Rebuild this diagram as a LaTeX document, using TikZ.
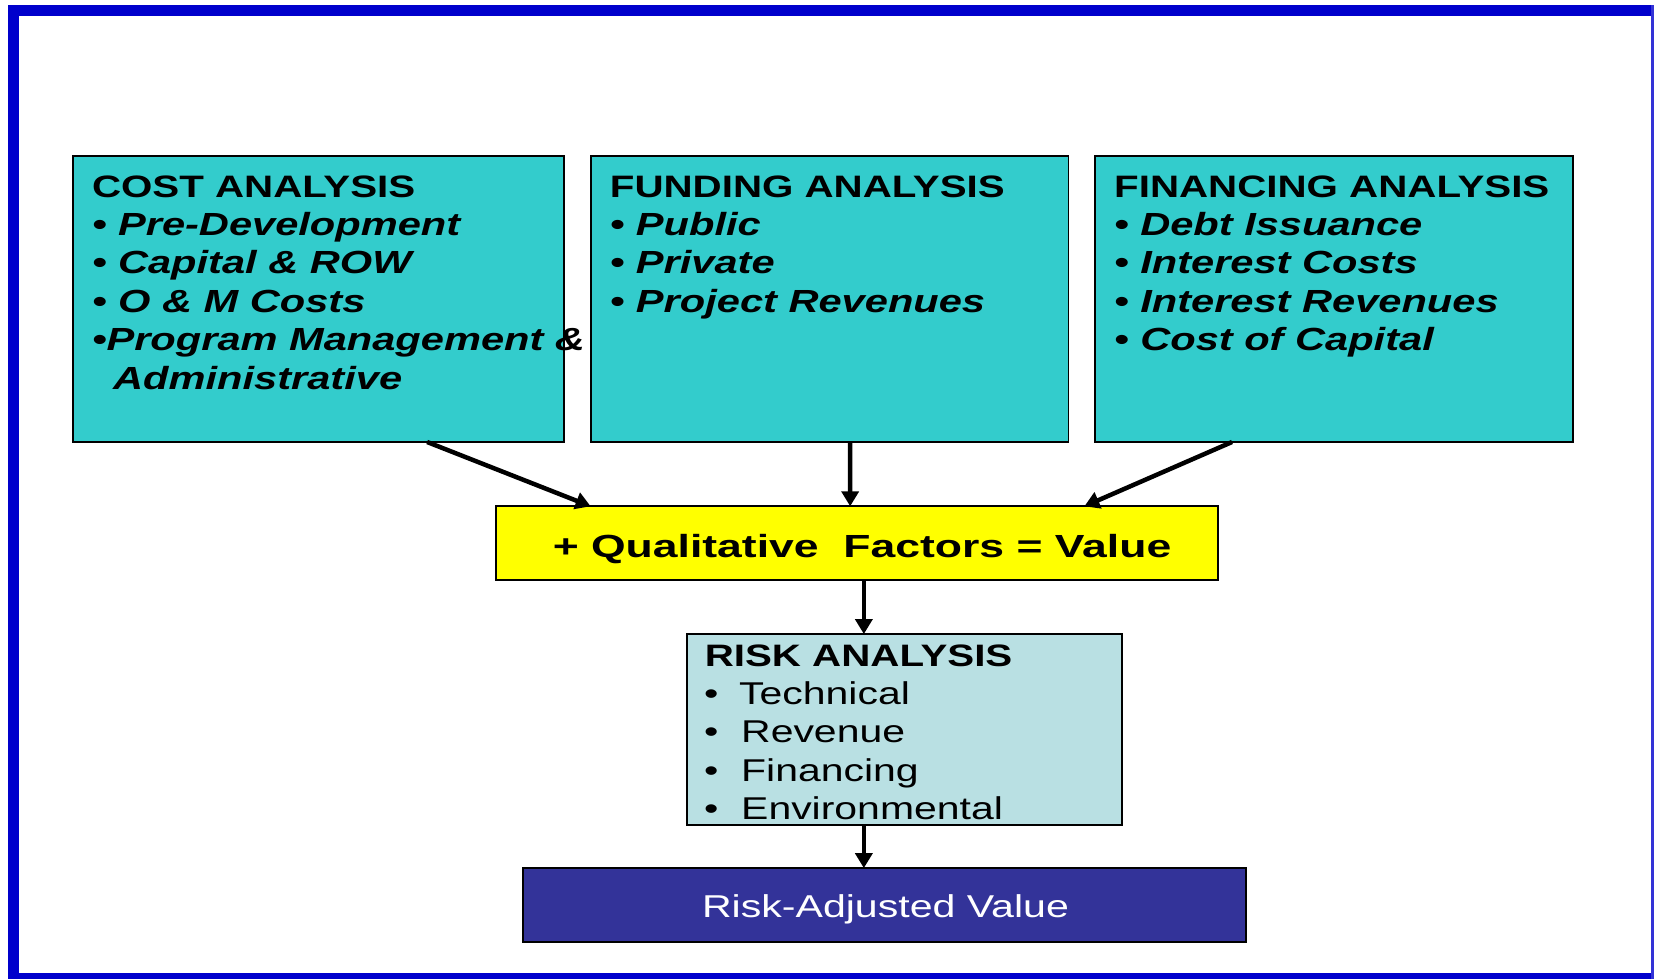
\documentclass[tikz,border=0pt]{standalone}
\usepackage{fontspec}
\usepackage{graphicx}
\setmainfont{Liberation Sans}[FakeStretch=1.3]
\usetikzlibrary{arrows.meta}
\definecolor{frameblue}{HTML}{0000CC}
\definecolor{boxcyan}{HTML}{33CCCC}
\definecolor{boxyellow}{HTML}{FFFF00}
\definecolor{risklight}{HTML}{B9E0E3}
\definecolor{boxnavy}{HTML}{333399}
\newcommand{\txt}[1]{\fontsize{#1}{#1}\selectfont}
\begin{document}
\begin{tikzpicture}[x=1pt,y=-1pt,
  box/.style={draw=black, line width=1.8pt, rectangle, inner sep=0pt, outer sep=0pt},
  line/.style={anchor=base west, inner sep=0pt, text=black},
  title/.style={line, font=\txt{31}\bfseries},
  item/.style={line, font=\txt{32}\bfseries\itshape},
  ritem/.style={line, font=\txt{31.5}},
  link/.style={line width=4.5pt, -{Triangle[length=15pt,width=17pt]}}]
\useasboundingbox (0,0) rectangle (1654,979);
\fill[white] (0,0) rectangle (1654,979);
% blue frame
\fill[frameblue] (8.4,5.3) rectangle (1654,16);
\fill[frameblue] (8.4,5.3) rectangle (19,979);
\fill[frameblue] (8.4,972.5) rectangle (1654,979);
\fill[frameblue!80!white] (1651,5.3) rectangle (1653.5,979);

% boxes
\node[box, fill=boxcyan, minimum width=491.5, minimum height=286] (cost) at (318.5,299) {};
\node[box, fill=boxcyan, minimum width=477.8, minimum height=286] (fund) at (829.6,299) {};
\node[box, fill=boxcyan, minimum width=477.8, minimum height=286] (fin) at (1333.8,299) {};
\node[box, fill=boxyellow, minimum width=722.5, minimum height=73.8] (qual) at (857,543.2) {};
\node[box, fill=risklight, minimum width=435.6, minimum height=190.9] (risk) at (904.5,729.5) {};
\node[box, fill=boxnavy, minimum width=722.5, minimum height=73.8] (rav) at (884.5,905) {};

% cost analysis text
\node[title] (cost0) at (91.8,197) {COST ANALYSIS};
\node[item] (cost1) at (91.8,235.4) {• Pre-Development};
\node[item] (cost2) at (91.8,273.8) {• Capital \& ROW};
\node[item] (cost3) at (91.8,312.2) {• O \& M Costs};
\node[item] (cost4) at (91.8,350.6) {•Program Management \&};
\node[item] (cost5) at (113,389) {Administrative};

% funding analysis text
\node[title] (fund0) at (609.7,197) {FUNDING ANALYSIS};
\node[item] (fund1) at (609.7,235.4) {• Public};
\node[item] (fund2) at (609.7,273.8) {• Private};
\node[item] (fund3) at (609.7,312.2) {• Project Revenues};

% financing analysis text
\node[title] (fin0) at (1114,197) {FINANCING ANALYSIS};
\node[item] (fin1) at (1114,235.4) {• Debt Issuance};
\node[item] (fin2) at (1114,273.8) {• Interest Costs};
\node[item] (fin3) at (1114,312.2) {• Interest Revenues};
\node[item] (fin4) at (1114,350.6) {• Cost of Capital};

% qualitative factors
\node[anchor=base, inner sep=0pt, font=\txt{32}\bfseries] (qualtext) at (862,557)
  {\scalebox{1.07}[1]{+ Qualitative\ \ Factors = Value}};

% risk analysis text
\node[title] (risk0) at (704.6,666) {RISK ANALYSIS};
\node[ritem] (risk1) at (704,704.4) {\makebox[35pt][l]{•}Technical};
\node[ritem] (risk2) at (704,742.8) {\makebox[37pt][l]{•}Revenue};
\node[ritem] (risk3) at (704,781.2) {\makebox[37pt][l]{•}Financing};
\node[ritem] (risk4) at (704,819.6) {\makebox[37pt][l]{•}Environmental};

% result
\node[anchor=base, inner sep=0pt, font=\txt{31.6}, text=white] (ravtext) at (885.5,917) {Risk-Adjusted Value};

% connectors
\coordinate (a1) at ([xshift=354.4pt]cost.south west);
\coordinate (b1) at ([xshift=94.9pt]qual.north west);
\coordinate (a2) at ([xshift=259.5pt]fund.south west);
\coordinate (b2) at ([xshift=354.4pt]qual.north west);
\coordinate (a3) at ([xshift=137.1pt]fin.south west);
\coordinate (b3) at ([xshift=588.6pt]qual.north west);
\coordinate (a4) at ([xshift=368.1pt]qual.south west);
\draw[link] (a1) -- (b1);
\draw[link] (a2) -- (b2);
\draw[link] (a3) -- (b3);
\draw[link] (a4) -- (a4 |- risk.north);
\draw[link] (a4 |- risk.south) -- (a4 |- rav.north);
\end{tikzpicture}
\end{document}
